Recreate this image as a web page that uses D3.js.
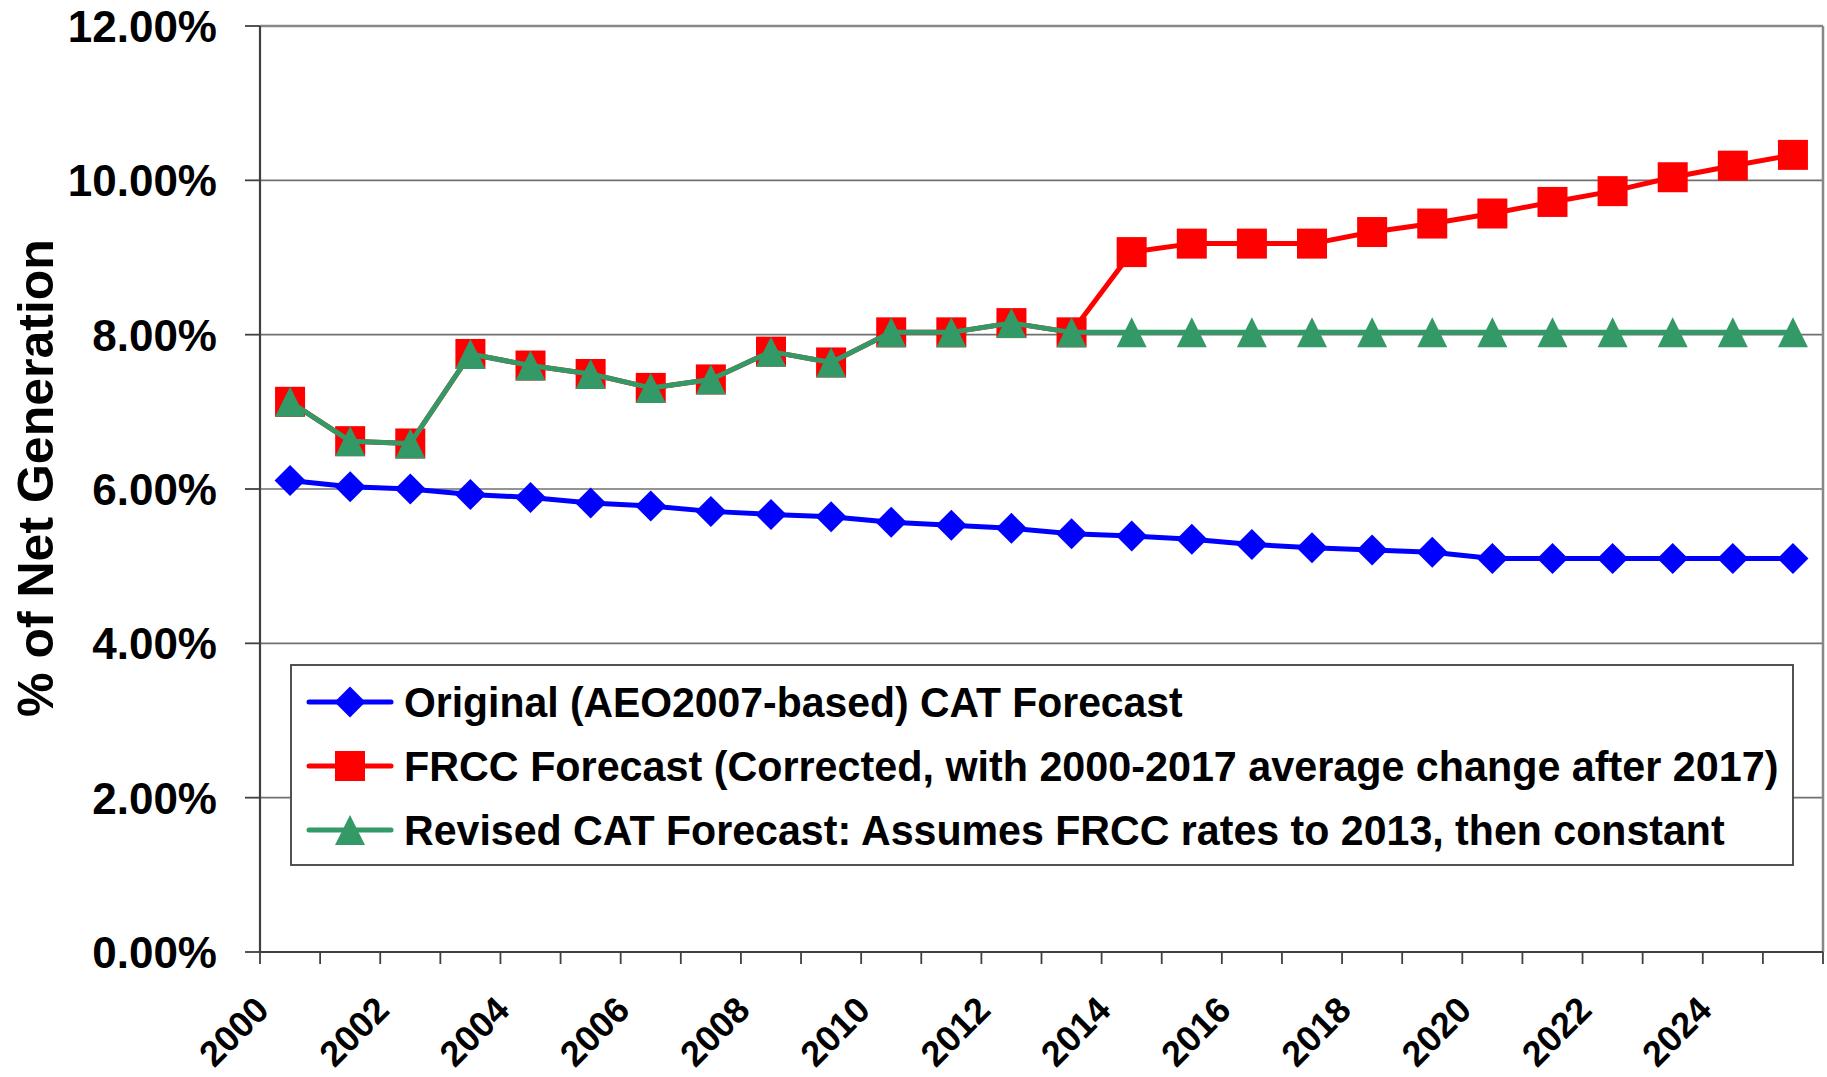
<!DOCTYPE html>
<html>
<head>
<meta charset="utf-8">
<script src="https://cdn.jsdelivr.net/npm/d3@7"></script>
<style>
  html, body { margin: 0; padding: 0; background: #fff; }
  svg { display: block; }
  text { font-family: "Liberation Sans", Arial, sans-serif; font-weight: bold; fill: #000; }
</style>
</head>
<body>
<svg id="chart" width="1827" height="1077"></svg>
<script>
// ---------- data ----------
const years = ["2000","2001","2002","2003","2004","2005","2006","2007","2008","2009",
               "2010","2011","2012","2013","2014","2015","2016","2017","2018","2019",
               "2020","2021","2022","2023","2024","2025"];
const xTickLabels = ["2000","2002","2004","2006","2008","2010","2012","2014","2016","2018","2020","2022","2024"];
const yTicks = [0, 2, 4, 6, 8, 10, 12];

const originalCAT = [6.11, 6.03, 6.00, 5.93, 5.89, 5.82, 5.78, 5.71, 5.67, 5.64,
                     5.57, 5.53, 5.49, 5.42, 5.39, 5.35, 5.28, 5.24, 5.21, 5.18,
                     5.10, 5.10, 5.10, 5.10, 5.10, 5.10];
const frccForecast = [7.13, 6.62, 6.59, 7.75, 7.60, 7.49, 7.31, 7.42, 7.78, 7.64,
                      8.03, 8.03, 8.15, 8.03, 9.07, 9.18, 9.18, 9.18, 9.33, 9.44,
                      9.57, 9.72, 9.86, 10.04, 10.19, 10.33];
const revisedCAT = [7.13, 6.62, 6.59, 7.75, 7.60, 7.49, 7.31, 7.42, 7.78, 7.64,
                    8.03, 8.03, 8.15, 8.03, 8.03, 8.03, 8.03, 8.03, 8.03, 8.03,
                    8.03, 8.03, 8.03, 8.03, 8.03, 8.03];

const seriesNames = [
  "Original (AEO2007-based) CAT Forecast",
  "FRCC Forecast (Corrected, with 2000-2017 average change after 2017)",
  "Revised CAT Forecast: Assumes FRCC rates to 2013, then constant"
];
const yAxisTitle = "% of Net Generation";

// ---------- layout ----------
const svg = d3.select("#chart");
const plot = { left: 260, right: 1823, top: 26, bottom: 952 };

const x = d3.scaleBand().domain(years).range([plot.left, plot.right]).padding(0);
const y = d3.scaleLinear().domain([0, 12]).range([plot.bottom, plot.top]);
const cx = d => x(d) + x.bandwidth() / 2;

const series = [
  { name: seriesNames[0], values: originalCAT, color: "#0000FF", marker: "diamond" },
  { name: seriesNames[1], values: frccForecast, color: "#FF0000", marker: "square" },
  { name: seriesNames[2], values: revisedCAT, color: "#339966", marker: "triangle" }
];

// plot background
svg.append("rect").attr("x", plot.left).attr("y", plot.top)
  .attr("width", plot.right - plot.left).attr("height", plot.bottom - plot.top)
  .attr("fill", "#fff");

// gridlines
svg.append("g").selectAll("line").data(yTicks.filter(t => t > 0 && t < 12)).join("line")
  .attr("x1", plot.left).attr("x2", plot.right)
  .attr("y1", d => y(d)).attr("y2", d => y(d))
  .attr("stroke", "#707070").attr("stroke-width", 1.6);

// plot border (top and right)
svg.append("line").attr("x1", plot.left).attr("x2", plot.right)
  .attr("y1", y(12)).attr("y2", y(12)).attr("stroke", "#888").attr("stroke-width", 2.5);
svg.append("line").attr("x1", plot.right).attr("x2", plot.right)
  .attr("y1", plot.top).attr("y2", plot.bottom).attr("stroke", "#888").attr("stroke-width", 2.5);

// y axis
const yAxisG = svg.append("g");
yAxisG.append("line").attr("x1", plot.left).attr("x2", plot.left)
  .attr("y1", plot.top).attr("y2", plot.bottom).attr("stroke", "#404040").attr("stroke-width", 2.2);
yAxisG.selectAll("line.tick").data(yTicks).join("line").attr("class", "tick")
  .attr("x1", plot.left - 15).attr("x2", plot.left)
  .attr("y1", d => y(d)).attr("y2", d => y(d))
  .attr("stroke", "#404040").attr("stroke-width", 1.8);
yAxisG.selectAll("text").data(yTicks).join("text")
  .attr("x", 217).attr("y", d => y(d) + 16)
  .attr("text-anchor", "end").attr("font-size", 44)
  .text(d => d.toFixed(2) + "%");

// y title
svg.append("text")
  .attr("transform", "translate(53,478) rotate(-90)")
  .attr("text-anchor", "middle").attr("font-size", 50)
  .text(yAxisTitle);

// x axis
const xAxisG = svg.append("g");
xAxisG.append("line").attr("x1", plot.left).attr("x2", plot.right)
  .attr("y1", plot.bottom).attr("y2", plot.bottom).attr("stroke", "#404040").attr("stroke-width", 2.2);
const boundaries = years.map(d => x(d)).concat([plot.right]);
xAxisG.selectAll("line.tick").data(boundaries).join("line").attr("class", "tick")
  .attr("x1", d => d).attr("x2", d => d)
  .attr("y1", plot.bottom).attr("y2", plot.bottom + 12)
  .attr("stroke", "#404040").attr("stroke-width", 1.8);
xAxisG.selectAll("text").data(xTickLabels).join("text")
  .attr("transform", d => `translate(${x(d) + 11},1012) rotate(-45)`)
  .attr("text-anchor", "end").attr("font-size", 36)
  .text(d => d);

// marker shapes
function markerPath(type) {
  if (type === "diamond") return "M0,-15.5L15.5,0L0,15.5L-15.5,0Z";
  if (type === "square") return "M-15,-15H15V15H-15Z";
  return "M0,-15L15,15H-15Z";
}

const line = d3.line().x((d, i) => cx(years[i])).y(d => y(d));

series.forEach(s => {
  const g = svg.append("g");
  g.append("path").attr("d", line(s.values))
    .attr("fill", "none").attr("stroke", s.color).attr("stroke-width", 5)
    .attr("stroke-linejoin", "round");
  g.selectAll("path.m").data(s.values).join("path").attr("class", "m")
    .attr("d", markerPath(s.marker))
    .attr("transform", (d, i) => `translate(${cx(years[i])},${y(d)})`)
    .attr("fill", s.color);
});

// legend
const legend = svg.append("g");
legend.append("rect").attr("x", 291).attr("y", 665).attr("width", 1502).attr("height", 200)
  .attr("fill", "#fff").attr("stroke", "#404040").attr("stroke-width", 1.8);
const legendRowY = [702, 766, 830];
const legendWidths = [779, 1375, 1321];
series.forEach((s, i) => {
  const ly = legendRowY[i];
  legend.append("line").attr("x1", 309).attr("x2", 391).attr("y1", ly).attr("y2", ly)
    .attr("stroke", s.color).attr("stroke-width", 5).attr("stroke-linecap", "round");
  legend.append("path").attr("d", markerPath(s.marker))
    .attr("transform", `translate(350,${ly})`).attr("fill", s.color);
  const t = legend.append("text").attr("x", 0).attr("y", 0)
    .attr("font-size", 43)
    .text(s.name);
  const natural = t.node().getComputedTextLength();
  const k = natural > 0 ? legendWidths[i] / natural : 1;
  t.attr("transform", `translate(404,${ly + 15}) scale(${k},1)`);
});
</script>
</body>
</html>
